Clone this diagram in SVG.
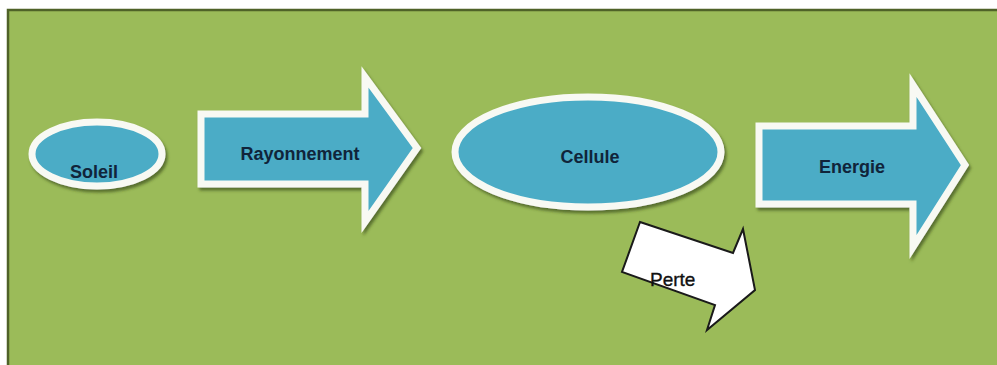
<svg xmlns="http://www.w3.org/2000/svg" width="997" height="365" viewBox="0 0 997 365">
<style>
.shape{fill:#4bacc6;stroke:#f8f9f3;stroke-width:7;stroke-linejoin:miter;filter:url(#sh)}
.lbl{font-family:"Liberation Sans",Arial,sans-serif;font-weight:bold;font-size:18px;fill:#10243a;text-anchor:middle}
.perte{font-family:"Liberation Sans",Arial,sans-serif;font-size:19px;fill:#111111;stroke:#111111;stroke-width:0.35}
</style>
<defs>
<filter id="sh" x="-10%" y="-10%" width="125%" height="130%">
<feDropShadow dx="2" dy="3" stdDeviation="1.5" flood-color="#3d4f1c" flood-opacity="0.7"/>
</filter>
</defs>
<rect x="0" y="0" width="997" height="365" fill="#ffffff"/>
<rect x="8" y="10" width="995" height="360" fill="#9bbb59" stroke="#4f6228" stroke-width="2.5"/>
<g id="soleil">
<ellipse class="shape" cx="97" cy="154" rx="65" ry="32"/>
<text class="lbl" x="94" y="178">Soleil</text>
</g>
<g id="cellule">
<ellipse class="shape" cx="588" cy="152" rx="133" ry="55"/>
<text class="lbl" x="590" y="163">Cellule</text>
</g>
<g id="connectors">
<g id="rayonnement">
<path class="shape" d="M201,114 L365,114 L365,77 L417,148 L365,222 L365,184 L201,184 Z"/>
<text class="lbl" x="300" y="160">Rayonnement</text>
</g>
<g id="energie">
<path class="shape" d="M759,126 L913,126 L913,85 L965,165 L913,247 L913,204 L759,204 Z"/>
<text class="lbl" x="852" y="173">Energie</text>
</g>
<g id="perte">
<path d="M640,222 L733,253 L743,229 L755,290 L707,330 L715,305 L622,272 Z" fill="#ffffff" stroke="#1a1a1a" stroke-width="2" stroke-linejoin="miter"/>
<text class="perte" x="650" y="286">Perte</text>
</g>
</g>
</svg>
